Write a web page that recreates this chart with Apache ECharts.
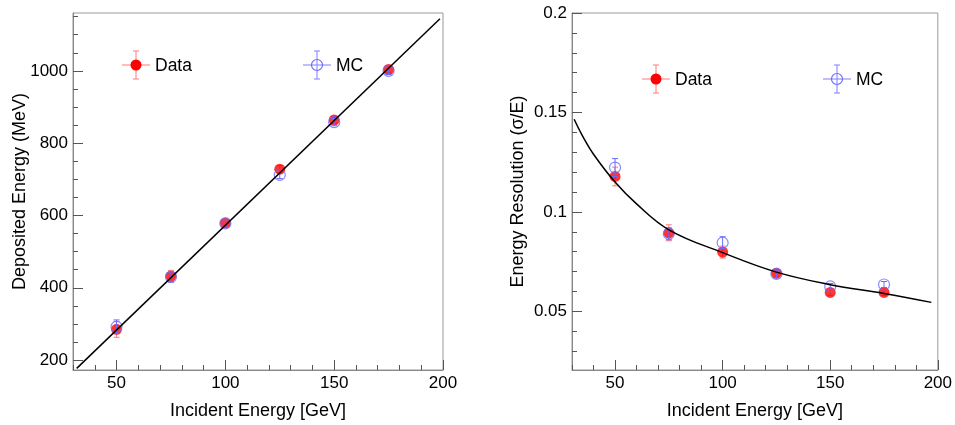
<!DOCTYPE html>
<html><head><meta charset="utf-8">
<script src="https://cdn.jsdelivr.net/npm/echarts@6/dist/echarts.min.js"></script>
<style>html,body{margin:0;padding:0;background:#fff}#c{width:955px;height:425px}</style>
</head><body><div id="c"></div>
<script>
// ---- data ----
const energies = [50, 75, 100, 125, 150, 175];
const depData = [285, 432, 579, 728, 864, 1004];
const depDataErr = [22, 16, 10, 10, 10, 10];
const depMC = [292, 430, 578, 712, 858, 1000];
const depMCErr = [19, 14, 10, 10, 10, 10];
const linFitX = [31.7, 198.6];
const linFitY = [177, 1144];
const resData = [0.1178, 0.0895, 0.0798, 0.0692, 0.0595, 0.0595];
const resDataErr = [0.0047, 0.004, 0.003, 0.002, 0.0015, 0.0015];
const resMC = [0.1223, 0.089, 0.0845, 0.0688, 0.0625, 0.0635];
const resMCErr = [0.0045, 0.003, 0.003, 0.002, 0.0015, 0.0015];
const resFitX = [31, 35, 40, 50, 60, 75, 100, 125, 150, 175, 197];
const resFitY = [0.1466, 0.138, 0.129, 0.115, 0.104, 0.091, 0.0795, 0.0697, 0.0634, 0.059, 0.0545];
// ---- ticks ----
const xMajor = [50, 100, 150, 200];
const xMinor = [30, 40, 60, 70, 80, 90, 110, 120, 130, 140, 160, 170, 180, 190];
const leftYMajor = [200, 400, 600, 800, 1000];
const leftYMinor = [250, 300, 350, 450, 500, 550, 650, 700, 750, 850, 900, 950, 1050, 1100, 1150];
const rightYMajor = [0.05, 0.1, 0.15, 0.2];
const rightYMinor = [0.03, 0.04, 0.06, 0.07, 0.08, 0.09, 0.11, 0.12, 0.13, 0.14, 0.16, 0.17, 0.18, 0.19];
const xTitle = 'Incident Energy [GeV]';
const leftYTitle = 'Deposited Energy (MeV)';
const rightYTitle = 'Energy Resolution (σ/E)';
const legendNames = ['Data', 'MC'];

const FONT = "'Liberation Sans', Arial, sans-serif";
const FS = 17;
const TFS = 18;
const RED = '#ff0000', RED_ERR = '#ff7a7a', BLUE = '#6a6aff', BLUE_ERR = '#7f7fff';

function pairs(xs, ys) { return xs.map((x, i) => [x, ys[i]]); }
function triples(xs, ys, es) { return xs.map((x, i) => [x, ys[i], es[i]]); }

function errRender(color) {
  return function (params, api) {
    const x = api.value(0), y = api.value(1), e = api.value(2);
    const t = api.coord([x, y + e]), b = api.coord([x, y - e]);
    const c = 3, st = { stroke: color, lineWidth: 1 };
    return { type: 'group', children: [
      { type: 'line', shape: { x1: t[0], y1: t[1], x2: b[0], y2: b[1] }, style: st },
      { type: 'line', shape: { x1: t[0] - c, y1: t[1], x2: t[0] + c, y2: t[1] }, style: st },
      { type: 'line', shape: { x1: b[0] - c, y1: b[1], x2: b[0] + c, y2: b[1] }, style: st }
    ]};
  };
}

function xAxes(gi) {
  return [
    { gridIndex: gi, type: 'value', position: 'bottom', min: 30, max: 200,
      name: xTitle, nameLocation: 'middle', nameGap: 32, nameMoveOverlap: false,
      nameTextStyle: { fontFamily: FONT, fontSize: TFS, color: '#000' },
      axisLine: { show: true, lineStyle: { color: '#888', width: 1 } },
      axisTick: { show: true, inside: true, length: 10, customValues: xMajor, lineStyle: { color: '#555' } },
      axisLabel: { show: true, customValues: xMajor, margin: 5, fontFamily: FONT, fontSize: FS, color: '#000' },
      splitLine: { show: false } },
    { gridIndex: gi, type: 'value', position: 'bottom', min: 30, max: 200,
      axisLine: { show: false },
      axisTick: { show: true, inside: true, length: 5, customValues: xMinor, lineStyle: { color: '#555' } },
      axisLabel: { show: false }, splitLine: { show: false } }
  ];
}

function yAxes(gi, min, max, major, minor, title, fmt, gap) {
  return [
    { gridIndex: gi, type: 'value', position: 'left', min: min, max: max,
      name: title, nameLocation: 'middle', nameGap: gap, nameMoveOverlap: false,
      nameTextStyle: { fontFamily: FONT, fontSize: TFS, color: '#000' },
      axisLine: { show: true, lineStyle: { color: '#888', width: 1 } },
      axisTick: { show: true, inside: true, length: 10, customValues: major, lineStyle: { color: '#555' } },
      axisLabel: { show: true, customValues: major, margin: 5, fontFamily: FONT, fontSize: FS, color: '#000', formatter: fmt },
      splitLine: { show: false } },
    { gridIndex: gi, type: 'value', position: 'left', min: min, max: max,
      axisLine: { show: false },
      axisTick: { show: true, inside: true, length: 5, customValues: minor, lineStyle: { color: '#555' } },
      axisLabel: { show: false }, splitLine: { show: false } }
  ];
}

function legendItem(cx, cy, filled, label) {
  const ec = filled ? RED_ERR : BLUE_ERR;
  const L = 14, c = 3;
  const st = { stroke: ec, lineWidth: 1 };
  return [
    { type: 'line', shape: { x1: cx - L, y1: cy, x2: cx + L, y2: cy }, style: st, z: 10 },
    { type: 'line', shape: { x1: cx, y1: cy - L, x2: cx, y2: cy + L }, style: st, z: 10 },
    { type: 'line', shape: { x1: cx - c, y1: cy - L, x2: cx + c, y2: cy - L }, style: st, z: 10 },
    { type: 'line', shape: { x1: cx - c, y1: cy + L, x2: cx + c, y2: cy + L }, style: st, z: 10 },
    { type: 'circle', shape: { cx: cx, cy: cy, r: 5.5 },
      style: filled ? { fill: RED } : { fill: 'rgba(0,0,0,0)', stroke: BLUE, lineWidth: 1.2 }, z: 11 },
    { type: 'text', x: cx + 19, y: cy + 1, style: { text: label, fontFamily: FONT, fontSize: 17.5, fill: '#000', verticalAlign: 'middle', align: 'left' }, z: 11 }
  ];
}

const chart = echarts.init(document.getElementById('c'), null, { renderer: 'canvas' });
const option = {
  animation: false,
  backgroundColor: '#fff',
  grid: [
    { left: 73, top: 13, width: 370, height: 358, show: true, borderColor: '#999', borderWidth: 1, backgroundColor: 'transparent' },
    { left: 572, top: 13, width: 370, height: 358, show: true, borderColor: '#999', borderWidth: 1, backgroundColor: 'transparent' }
  ],
  xAxis: [...xAxes(0), ...xAxes(1)],
  yAxis: [
    ...yAxes(0, 172.5, 1160, leftYMajor, leftYMinor, leftYTitle, v => String(v), 44),
    ...yAxes(1, 0.0205, 0.2, rightYMajor, rightYMinor, rightYTitle, v => String(+v.toFixed(3)), 44.5)
  ],
  series: [
    // left
    { type: 'custom', xAxisIndex: 0, yAxisIndex: 0, renderItem: errRender(RED_ERR), data: triples(energies, depData, depDataErr), z: 2 },
    { type: 'scatter', xAxisIndex: 0, yAxisIndex: 0, symbol: 'circle', symbolSize: 11, itemStyle: { color: RED }, data: pairs(energies, depData), z: 3 },
    { type: 'custom', xAxisIndex: 0, yAxisIndex: 0, renderItem: errRender(BLUE), data: triples(energies, depMC, depMCErr), z: 4 },
    { type: 'scatter', xAxisIndex: 0, yAxisIndex: 0, symbol: 'circle', symbolSize: 11, itemStyle: { color: 'rgba(0,0,0,0)', borderColor: BLUE, borderWidth: 1.2 }, data: pairs(energies, depMC), z: 5 },
    { type: 'line', xAxisIndex: 0, yAxisIndex: 0, showSymbol: false, lineStyle: { color: '#000', width: 1.5 }, data: pairs(linFitX, linFitY), z: 6 },
    // right
    { type: 'custom', xAxisIndex: 2, yAxisIndex: 2, renderItem: errRender(RED_ERR), data: triples(energies, resData, resDataErr), z: 2 },
    { type: 'scatter', xAxisIndex: 2, yAxisIndex: 2, symbol: 'circle', symbolSize: 11, itemStyle: { color: RED }, data: pairs(energies, resData), z: 3 },
    { type: 'custom', xAxisIndex: 2, yAxisIndex: 2, renderItem: errRender(BLUE), data: triples(energies, resMC, resMCErr), z: 4 },
    { type: 'scatter', xAxisIndex: 2, yAxisIndex: 2, symbol: 'circle', symbolSize: 11, itemStyle: { color: 'rgba(0,0,0,0)', borderColor: BLUE, borderWidth: 1.2 }, data: pairs(energies, resMC), z: 5 },
    { type: 'line', xAxisIndex: 2, yAxisIndex: 2, showSymbol: false, smooth: 0.4, lineStyle: { color: '#000', width: 1.5 }, data: pairs(resFitX, resFitY), z: 6 }
  ],
  graphic: [
    ...legendItem(136, 65, true, legendNames[0]),
    ...legendItem(317, 65, false, legendNames[1]),
    ...legendItem(656, 79, true, legendNames[0]),
    ...legendItem(837, 79, false, legendNames[1])
  ]
};
chart.setOption(option);
</script>
</body></html>
